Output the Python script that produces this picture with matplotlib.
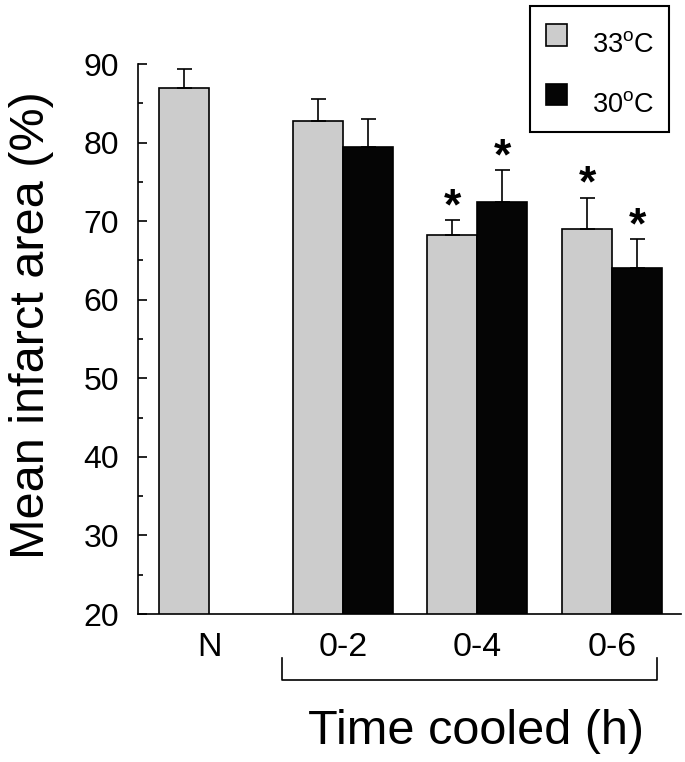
import matplotlib.pyplot as plt
from matplotlib.patches import Rectangle

plt.rcParams['font.family'] = ['Liberation Sans', 'DejaVu Sans']

# data
groups = ["N", "0-2", "0-4", "0-6"]
mean_33 = [86.9, 82.8, 68.3, 69.0]
err_33 = [2.5, 2.8, 1.8, 4.0]
mean_30 = [79.4, 72.4, 64.1]          # no 30 C bar for N
err_30 = [3.6, 4.1, 3.6]
star_33 = [False, False, True, True]
star_30 = [False, True, True]
labels = ["33$^{\\mathregular{o}}$C", "30$^{\\mathregular{o}}$C"]
gray = "#cccccc"
black = "#050505"

# layout (bar width = 1)
x_33 = [0, 2.69, 5.38, 8.08]
x_30 = [3.69, 6.38, 9.08]
tick_x = [0.51, 3.19, 5.88, 8.58]

fig = plt.figure(figsize=(6.85, 7.62), dpi=100)
ax = fig.add_axes([0.2015, 0.1942, 0.7925, 0.7218])

ax.bar(x_33, mean_33, width=1, color=gray, edgecolor="black", linewidth=1.2,
       yerr=[[0] * len(err_33), err_33], capsize=5.4,
       error_kw=dict(elinewidth=1.2, capthick=1.2, ecolor="black"), zorder=2)
ax.bar(x_30, mean_30, width=1, color=black, edgecolor="black", linewidth=1.2,
       yerr=[[0] * len(err_30), err_30], capsize=5.4,
       error_kw=dict(elinewidth=1.2, capthick=1.2, ecolor="black"), zorder=2)

# significance stars
for x, m, e, s in zip(x_33, mean_33, err_33, star_33):
    if s:
        ax.text(x, m + e + 1.6, "*", ha="center", va="center", fontsize=32, fontweight="bold")
for x, m, e, s in zip(x_30, mean_30, err_30, star_30):
    if s:
        ax.text(x, m + e + 1.6, "*", ha="center", va="center", fontsize=32, fontweight="bold")

ax.set_xlim(-0.91, 9.95)
ax.set_ylim(20, 90)
ax.set_yticks(range(20, 91, 10))
ax.set_yticks(range(25, 90, 10), minor=True)
ax.set_xticks(tick_x)
ax.set_xticklabels(groups)

ax.spines["top"].set_visible(False)
ax.spines["right"].set_visible(False)
ax.spines["left"].set_linewidth(1.2)
ax.spines["bottom"].set_linewidth(1.2)
ax.tick_params(axis="y", which="major", direction="in", length=6.5, width=1.2, labelsize=23, pad=13.5)
ax.tick_params(axis="y", which="minor", direction="in", length=3.6, width=1.2)
ax.tick_params(axis="x", length=0, labelsize=24.5, pad=13)

ax.set_ylabel("Mean infarct area (%)", fontsize=35)
ax.yaxis.set_label_coords(-0.155, 0.525)
ax.set_xlabel("Time cooled (h)", fontsize=35)
ax.xaxis.set_label_coords(0.622, -0.172)

# bracket under the cooled groups
ax.plot([1.97, 1.97, 9.47, 9.47], [14.4, 11.6, 11.6, 14.4], color="black", lw=1.2, clip_on=False)

# legend box drawn in pixel coordinates
lax = fig.add_axes([0, 0, 1, 1])
lax.set_xlim(0, 685)
lax.set_ylim(762, 0)
lax.axis("off")
lax.add_patch(Rectangle((530, 6), 139, 126, fill=False, edgecolor="black", lw=1.5))
for y0, col, lab in zip([24, 83.5], [gray, black], labels):
    lax.add_patch(Rectangle((546, y0), 21.5, 21.5, facecolor=col, edgecolor="black", lw=1.2))
    lax.text(592, y0 + 28, lab, fontsize=19.5, va="baseline", ha="left")

fig.savefig("out.png", dpi=100)
